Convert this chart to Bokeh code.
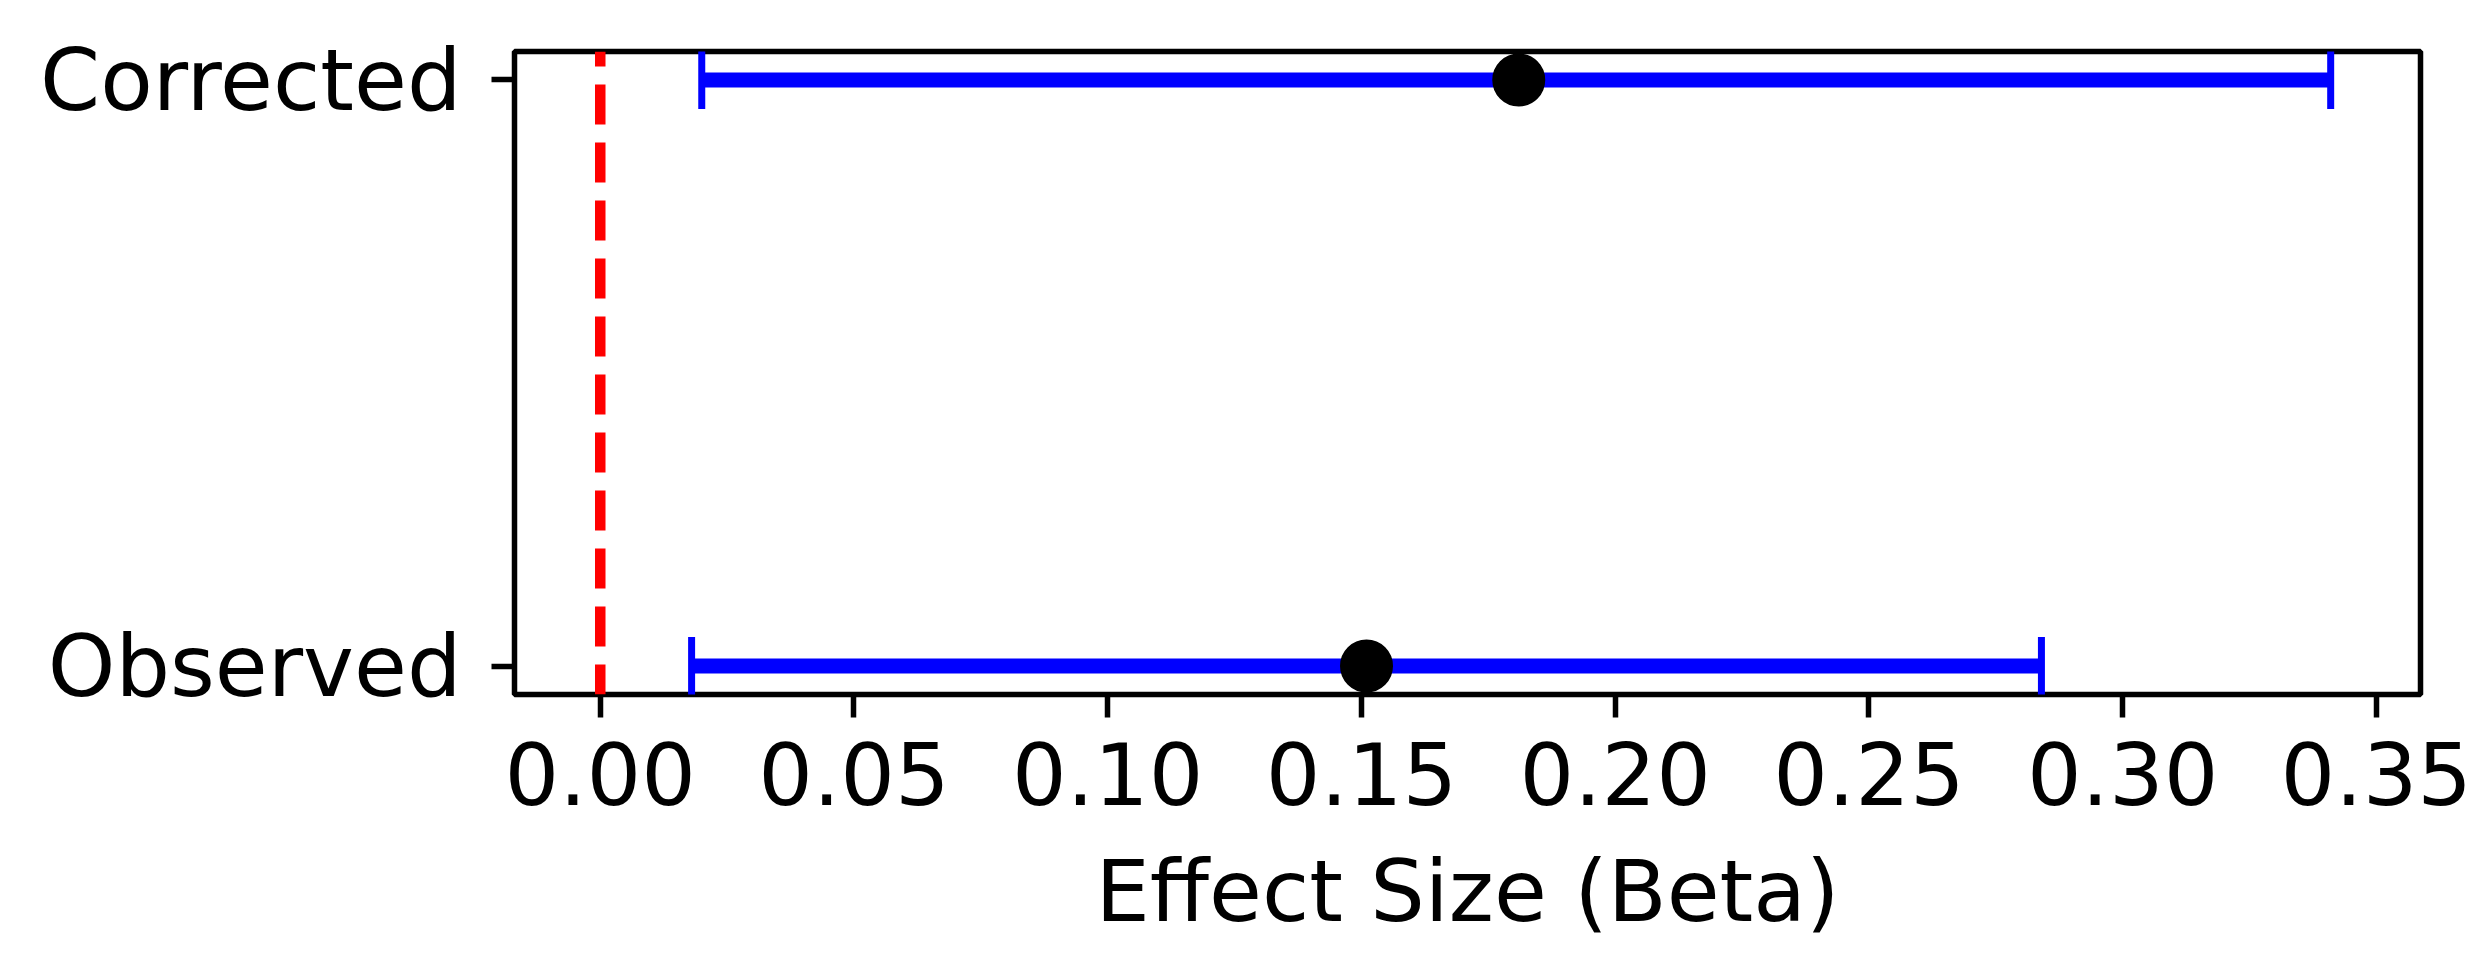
from bokeh.plotting import figure
from bokeh.models import Range1d, Span, Whisker, TeeHead, ColumnDataSource, FixedTicker
from bokeh.embed import file_html
from bokeh.resources import INLINE

# ---- data ----
categories = ["Observed", "Corrected"]
estimates = [0.151, 0.181]
ci_lower = [0.018, 0.020]
ci_upper = [0.284, 0.341]
x_ticks = [0.00, 0.05, 0.10, 0.15, 0.20, 0.25, 0.30, 0.35]
x_label = "Effect Size (Beta)"

ypos = list(range(len(categories)))
src = ColumnDataSource(dict(y=ypos, est=estimates, lo=ci_lower, hi=ci_upper))

FONT = "DejaVu Sans"
FS = "86px"

p = figure(
    output_backend="svg", toolbar_location=None,
    frame_width=1906, frame_height=643,
    min_border_left=514, min_border_right=52, min_border_top=51, min_border_bottom=258,
    x_range=Range1d(-0.0169, 0.3587), y_range=Range1d(-0.0486, 1.0486),
)
p.background_fill_color = "white"
p.border_fill_color = "white"
p.grid.visible = False
p.outline_line_color = "black"
p.outline_line_width = 5.5
p.outline_line_alpha = 1.0

# red dashed reference line at zero
p.add_layout(Span(location=0, dimension="height", line_color="red",
                  line_width=10.5, line_dash="40 18", line_dash_offset=25))

# error bars
w = Whisker(source=src, base="y", lower="lo", upper="hi", dimension="width",
            line_color="blue", line_width=15,
            lower_head=TeeHead(size=58, line_color="blue", line_width=7),
            upper_head=TeeHead(size=58, line_color="blue", line_width=7))
p.add_layout(w)

# point estimates
p.scatter(x="est", y="y", source=src, size=50, fill_color="black",
          line_color="black", line_width=3)

# axes styling
for ax in (p.xaxis[0], p.yaxis[0]):
    ax.axis_line_color = None
    ax.major_tick_out = 23
    ax.major_tick_in = 0
    ax.major_tick_line_width = 5.5
    ax.major_tick_line_color = "black"
    ax.minor_tick_line_color = None
    ax.major_label_text_font = FONT
    ax.major_label_text_font_size = FS
    ax.major_label_text_color = "black"

p.xaxis.ticker = FixedTicker(ticks=x_ticks)
p.xaxis.major_label_overrides = {t: f"{t:.2f}" for t in x_ticks}
p.xaxis.major_label_standoff = 24
p.xaxis.axis_label = x_label
p.xaxis.axis_label_text_font = FONT
p.xaxis.axis_label_text_font_size = FS
p.xaxis.axis_label_text_font_style = "normal"
p.xaxis.axis_label_text_color = "black"
p.xaxis.axis_label_standoff = 33

p.yaxis.ticker = FixedTicker(ticks=ypos)
p.yaxis.major_label_overrides = {i: c for i, c in zip(ypos, categories)}
p.yaxis.major_label_standoff = 30

open("out.html", "w").write(file_html(p, INLINE))
